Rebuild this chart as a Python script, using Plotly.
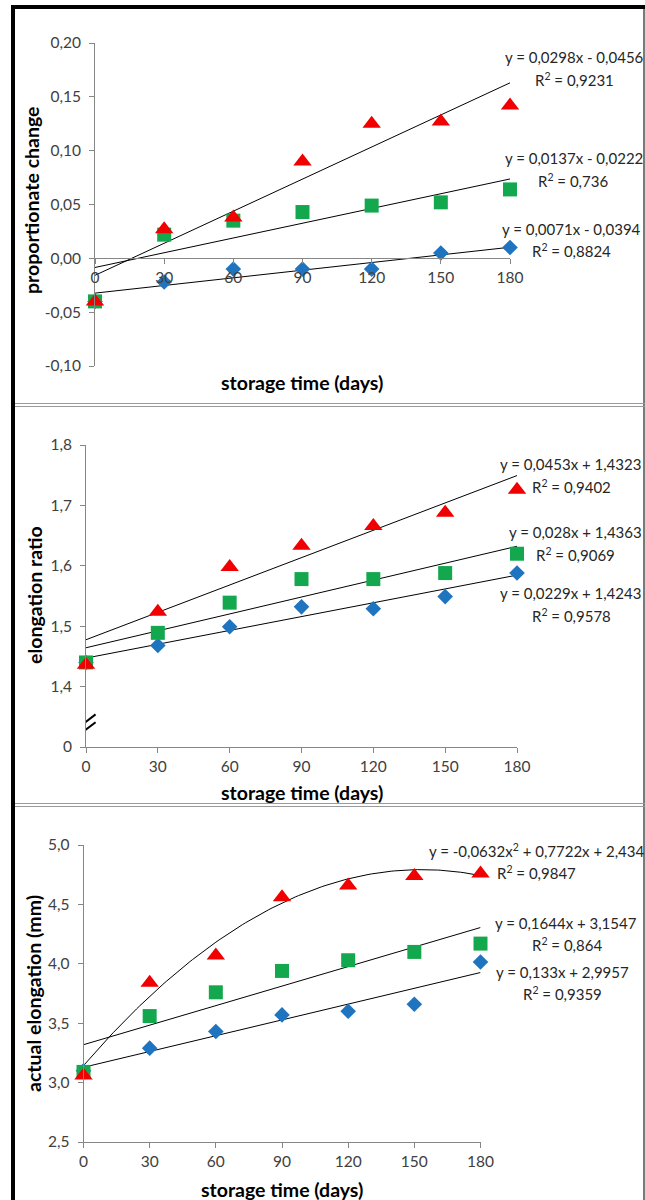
import plotly.graph_objects as go

W, H = 645, 1200

# ---------------- data ----------------
days = [0, 30, 60, 90, 120, 150, 180]
fit_index = [1, 2, 3, 4, 5, 6, 7]  # Excel trendline x (point index)

# Panel 1: proportionate change
pc_blue = [-0.040, -0.022, -0.010, -0.010, -0.010, 0.005, 0.010]
pc_green = [-0.040, 0.022, 0.035, 0.043, 0.049, 0.052, 0.064]
pc_red = [-0.040, 0.027, 0.038, 0.090, 0.125, 0.127, 0.142]
pc_fit_blue = [0.0071, -0.0394]
pc_fit_green = [0.0137, -0.0222]
pc_fit_red = [0.0298, -0.0456]
pc_eq = ["y = 0,0298x - 0,0456", "y = 0,0137x - 0,0222", "y = 0,0071x - 0,0394"]
pc_r2 = ["0,9231", "0,736", "0,8824"]
pc_ticks = [-0.10, -0.05, 0.00, 0.05, 0.10, 0.15, 0.20]

# Panel 2: elongation ratio
er_blue = [1.440, 1.468, 1.499, 1.532, 1.529, 1.549, 1.588]
er_green = [1.440, 1.489, 1.539, 1.578, 1.578, 1.588, 1.620]
er_red = [1.436, 1.524, 1.598, 1.633, 1.666, 1.688, 1.726]
er_fit_blue = [0.0229, 1.4243]
er_fit_green = [0.028, 1.4363]
er_fit_red = [0.0453, 1.4323]
er_eq = ["y = 0,0453x + 1,4323", "y = 0,028x + 1,4363", "y = 0,0229x + 1,4243"]
er_r2 = ["0,9402", "0,9069", "0,9578"]
er_ticks = [1.3, 1.4, 1.5, 1.6, 1.7, 1.8]
er_ticklabels = ["0", "1,4", "1,5", "1,6", "1,7", "1,8"]

# Panel 3: actual elongation (mm)
ae_blue = [3.10, 3.29, 3.43, 3.57, 3.60, 3.66, 4.015]
ae_green = [3.09, 3.56, 3.76, 3.94, 4.03, 4.10, 4.17]
ae_red = [3.06, 3.84, 4.07, 4.56, 4.66, 4.74, 4.76]
ae_fit_blue = [0.133, 2.9957]
ae_fit_green = [0.1644, 3.1547]
ae_fit_red = [-0.0632, 0.7722, 2.434]
ae_eq = ["y = -0,0632x<sup>2</sup> + 0,7722x + 2,434", "y = 0,1644x + 3,1547", "y = 0,133x + 2,9957"]
ae_r2 = ["0,9847", "0,864", "0,9359"]
ae_ticks = [2.5, 3.0, 3.5, 4.0, 4.5, 5.0]

x_ticks = [0, 30, 60, 90, 120, 150, 180]

# ---------------- style ----------------
FONT = "Lato, 'Liberation Sans', sans-serif"
AX = "#868686"
TXT = "#404040"
BLUE = "#1F74C0"
GREEN = "#14A84E"
RED = "#F00000"


def px_x(p):
    return p / W


def px_y(p):
    return 1 - p / H


def fmt(v, d):
    return f"{v:.{d}f}".replace(".", ",")


fig = go.Figure()

panels = [
    dict(n="", xd=(95, 510), yd=(43, 366), rng=(-0.10, 0.20),
         data=(pc_blue, pc_green, pc_red), fits=(pc_fit_blue, pc_fit_green, pc_fit_red),
         tv=pc_ticks, tt=[fmt(v, 2) for v in pc_ticks]),
    dict(n="2", xd=(86, 517), yd=(445, 747), rng=(1.3, 1.8),
         data=(er_blue, er_green, er_red), fits=(er_fit_blue, er_fit_green, er_fit_red),
         tv=er_ticks, tt=er_ticklabels),
    dict(n="3", xd=(83.5, 480.5), yd=(845, 1142), rng=(2.5, 5.0),
         data=(ae_blue, ae_green, ae_red), fits=(ae_fit_blue, ae_fit_green, ae_fit_red),
         tv=ae_ticks, tt=[fmt(v, 1) for v in ae_ticks]),
]


def poly(coefs, t):
    v = 0.0
    for c in coefs:
        v = v * t + c
    return v


for p in panels:
    xa = "x" + p["n"]
    ya = "y" + p["n"]
    # trend lines
    for coefs in p["fits"]:
        if len(coefs) == 2:
            ts = [fit_index[0], fit_index[-1]]
        else:
            ts = [fit_index[0] + k * 0.05 for k in range(int((fit_index[-1] - fit_index[0]) / 0.05) + 1)]
        xs = [days[0] + (t - fit_index[0]) * (days[1] - days[0]) for t in ts]
        ys = [poly(coefs, t) for t in ts]
        fig.add_trace(go.Scatter(x=xs, y=ys, mode="lines", xaxis=xa, yaxis=ya,
                                 line=dict(color="#000000", width=1), showlegend=False,
                                 hoverinfo="skip", cliponaxis=False))
    b, g, r = p["data"]
    fig.add_trace(go.Scatter(x=days, y=b, mode="markers", xaxis=xa, yaxis=ya, cliponaxis=False,
                             marker=dict(symbol="diamond", size=12, color=BLUE), showlegend=False))
    fig.add_trace(go.Scatter(x=days, y=g, mode="markers", xaxis=xa, yaxis=ya, cliponaxis=False,
                             marker=dict(symbol="square", size=14, color=GREEN), showlegend=False))
    fig.add_trace(go.Scatter(x=days, y=r, mode="markers", xaxis=xa, yaxis=ya, cliponaxis=False,
                             marker=dict(symbol="triangle-up", size=16, color=RED), showlegend=False))

    ydom = [px_y(p["yd"][1]), px_y(p["yd"][0])]
    xdom = [px_x(p["xd"][0]), px_x(p["xd"][1])]
    common = dict(showline=True, linecolor=AX, linewidth=1, ticks="outside", ticklen=5,
                  tickcolor=AX, tickwidth=1, showgrid=False, zeroline=False, automargin=False,
                  tickfont=dict(family=FONT, size=15.5, color=TXT))
    xkw = dict(domain=xdom, range=[0, 180], tickvals=x_ticks, ticktext=[str(v) for v in x_ticks], **common)
    if p["n"] == "":
        lo, hi = p["rng"]
        xkw.update(anchor="free", position=ydom[0] + (ydom[1] - ydom[0]) * (0 - lo) / (hi - lo))
    else:
        xkw.update(anchor=ya)
    ykw = dict(domain=ydom, range=list(p["rng"]), tickvals=p["tv"], ticktext=p["tt"], anchor=xa,
               ticklabelstandoff=5, **common)
    fig.update_layout(**{"xaxis" + p["n"]: xkw, "yaxis" + p["n"]: ykw})

# ---------------- annotations ----------------
ann = []


def text(x, y, s, size=15, bold=False, angle=0, color="#262626"):
    ann.append(dict(x=px_x(x), y=px_y(y), xref="paper", yref="paper", text=("<b>%s</b>" % s) if bold else s,
                    showarrow=False, xanchor="center", yanchor="middle", textangle=angle,
                    font=dict(family=FONT, size=size, color=color)))


# axis titles
TS = 19.5
text(302, 383, "storage time (days)", TS, True, 0, "#000")
text(32, 201, "proportionate change", TS, True, -90, "#000")
text(302, 792, "storage time (days)", TS, True, 0, "#000")
text(34, 595, "elongation ratio", TS, True, -90, "#000")
text(282, 1189, "storage time (days)", TS, True, 0, "#000")
text(33, 994, "actual elongation (mm)", TS, True, -90, "#000")

# equations
for (ex, ey, rx, ry), eq, r2 in zip([(574, 57, 574, 80), (574, 158, 573, 180), (571, 229, 571, 250)], pc_eq, pc_r2):
    text(ex, ey, eq)
    text(rx, ry, "R<sup>2</sup> = " + r2)
for (ex, ey, rx, ry), eq, r2 in zip([(570, 464, 571, 486), (575, 532, 575, 554), (570, 593, 571, 615)], er_eq, er_r2):
    text(ex, ey, eq)
    text(rx, ry, "R<sup>2</sup> = " + r2)
for (ex, ey, rx, ry), eq, r2 in zip([(536, 850, 536, 872), (566, 923, 567, 944), (562, 972, 562, 993)], ae_eq, ae_r2):
    text(ex, ey, eq)
    text(rx, ry, "R<sup>2</sup> = " + r2)

# ---------------- frame / separators ----------------
shapes = [
    dict(type="rect", xref="paper", yref="paper", x0=px_x(11), x1=px_x(15), y0=0, y1=px_y(5),
         fillcolor="#000", line=dict(width=0), layer="above"),
    dict(type="rect", xref="paper", yref="paper", x0=px_x(11), x1=1, y0=px_y(9), y1=px_y(5),
         fillcolor="#000", line=dict(width=0), layer="above"),
    dict(type="line", xref="paper", yref="paper", x0=px_x(644), x1=px_x(644), y0=0, y1=px_y(9),
         line=dict(color="#7a7a7a", width=2)),
]
for yy in (403.5, 406.5, 803.5, 806.5):
    shapes.append(dict(type="line", xref="paper", yref="paper", x0=px_x(15), x1=1, y0=px_y(yy), y1=px_y(yy),
                       line=dict(color="#9a9a9a", width=1)))
# axis break marks on panel 2 (drawn in axis coordinates)
for y0, y1 in ((1.3300, 1.3540), (1.3170, 1.3410)):
    shapes.append(dict(type="line", xref="x2", yref="y2", x0=-4, x1=4, y0=y0, y1=y1,
                       line=dict(color="#000", width=2)))

fig.update_layout(width=W, height=H, margin=dict(l=0, r=0, t=0, b=0, autoexpand=False), autosize=False,
                  paper_bgcolor="white", plot_bgcolor="white",
                  annotations=ann, shapes=shapes, showlegend=False,
                  font=dict(family=FONT))

fig.write_html("out.html")
